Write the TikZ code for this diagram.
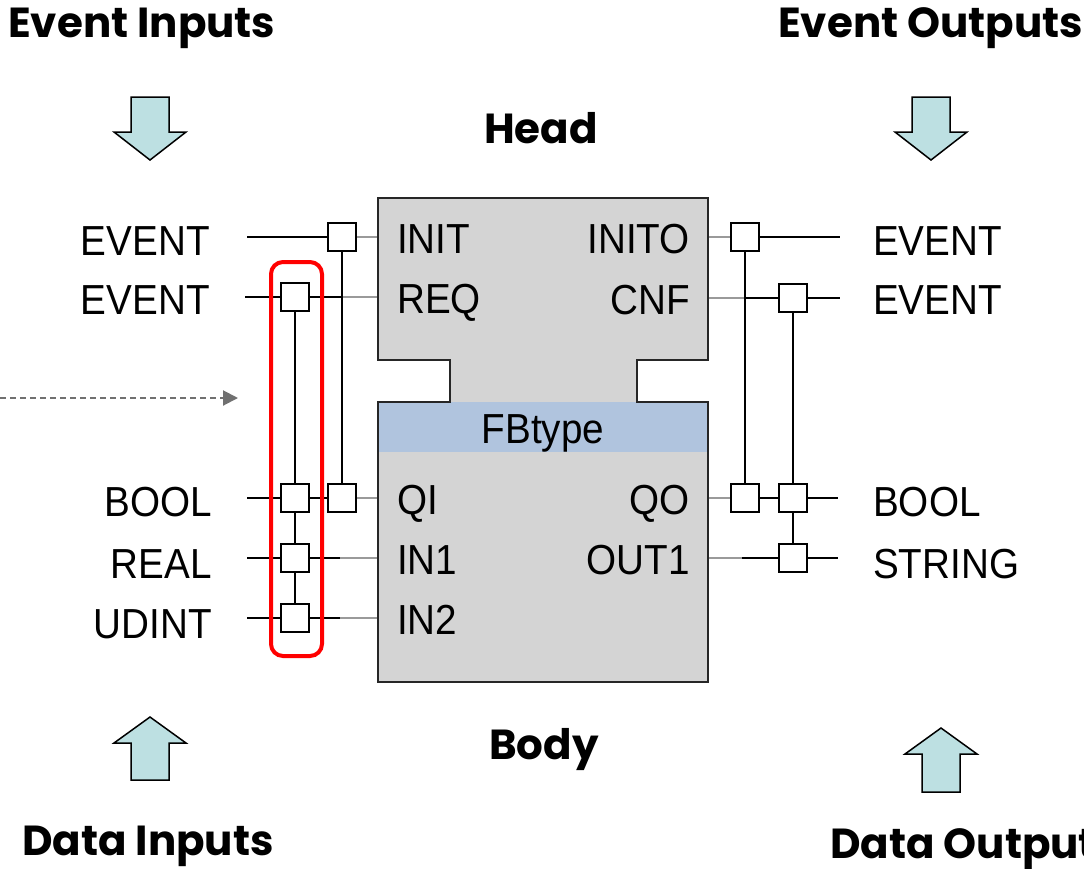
\documentclass[tikz,border=0pt]{standalone}
\usepackage{fontspec}
\setmainfont{Liberation Sans}
\newfontfamily\headfont{Poppins}
\usetikzlibrary{arrows.meta}
\definecolor{boxgray}{HTML}{D4D4D4}
\definecolor{bandblue}{HTML}{B0C4DE}
\definecolor{arrowfill}{HTML}{BDE0E2}
\definecolor{wiregray}{HTML}{9A9A9A}
\definecolor{dashgray}{HTML}{707070}
\newcommand{\lbl}[1]{\scalebox{0.92}[1]{#1}}
\tikzset{
  heading/.style={inner sep=0pt, font=\headfont\bfseries\fontsize{42}{42}\selectfont},
  port/.style={inner sep=0pt, font=\fontsize{42}{42}\selectfont, text=black},
  sq/.style={draw=black, fill=white, line width=2.4pt, minimum size=26pt, inner sep=0pt},
  wire/.style={draw=black, line width=2pt},
  gwire/.style={draw=wiregray, line width=2pt},
  bigarrow/.style={draw=black, fill=arrowfill, line width=1.5pt, line join=miter},
}
\begin{document}
\begin{tikzpicture}[x=1pt,y=-1pt]
\clip (0,0) rectangle (1084,868);
\fill[white] (0,0) rectangle (1084,868);

% headings
\node[heading, anchor=base west] (hEI) at (8,37) {Event Inputs};
\node[heading, anchor=base west] (hEO) at (778,37) {Event Outputs};
\node[heading, anchor=base] (hHead) at (541,143) {Head};
\node[heading, anchor=base] (hBody) at (544,759) {Body};
\node[heading, anchor=base west] (hDI) at (22,855) {Data Inputs};
\node[heading, anchor=base west] (hDO) at (830,858) {Data Outputs};

% big arrows
\path[bigarrow] (131,97) -- (169,97) -- (169,132) -- (186,132) -- (150,160) -- (114,132) -- (131,132) -- cycle;
\path[bigarrow] (912,97) -- (950,97) -- (950,132) -- (967,132) -- (931,160) -- (895,132) -- (912,132) -- cycle;
\path[bigarrow] (150,717) -- (186,743) -- (169,743) -- (169,780) -- (131,780) -- (131,743) -- (114,743) -- cycle;
\path[bigarrow] (941,728) -- (977,754) -- (960,754) -- (960,792) -- (922,792) -- (922,754) -- (905,754) -- cycle;

% dashed arrow
\coordinate (dA) at (0,398);
\coordinate (dB) at (238,398);
\draw[dashgray, line width=2pt, dash pattern=on 6pt off 4pt, -{Triangle[length=15pt,width=15pt]}] (dA) -- (dB);

% port coordinates on block edges
\coordinate (pINIT) at (378,237);
\coordinate (pREQ) at (378,297);
\coordinate (pQI) at (378,498);
\coordinate (pIN1) at (378,558);
\coordinate (pIN2) at (378,618);
\coordinate (pINITO) at (708,237);
\coordinate (pCNF) at (708,298);
\coordinate (pQO) at (708,498);
\coordinate (pOUT1) at (708,558);

% left squares
\node[sq] (sInit) at (342,237) {};
\node[sq] (sReq) at (295,297) {};
\node[sq] (sQI1) at (295,498) {};
\node[sq] (sQI2) at (342,498) {};
\node[sq] (sIn1) at (295,558) {};
\node[sq] (sIn2) at (295,618) {};
% right squares
\node[sq] (sInito) at (745,237) {};
\node[sq] (sCnf) at (793,298) {};
\node[sq] (sQO1) at (745,498) {};
\node[sq] (sQO2) at (793,498) {};
\node[sq] (sOut) at (793,558) {};

% wire end coordinates
\coordinate (lInit) at (247,237);
\coordinate (lReq) at (245,297);
\coordinate (lQI) at (247,498);
\coordinate (lIn1) at (247,558);
\coordinate (lIn2) at (247,618);
\coordinate (mReq) at (342,297);
\coordinate (mIn1) at (340,558);
\coordinate (mIn2) at (340,618);
\coordinate (rInito) at (840,237);
\coordinate (rCnf) at (840,298);
\coordinate (rQO) at (838,498);
\coordinate (rOut) at (838,558);
\coordinate (mCnf) at (745,298);
\coordinate (mOut) at (742,558);

% left wires
\draw[wire] (lInit) -- (sInit.west);
\draw[gwire] (sInit.east) -- (pINIT);
\draw[wire] (lReq) -- (sReq.west);
\draw[wire] (sReq.east) -- (mReq);
\draw[gwire] (mReq) -- (pREQ);
\draw[wire] (lQI) -- (sQI1.west);
\draw[wire] (sQI1.east) -- (sQI2.west);
\draw[gwire] (sQI2.east) -- (pQI);
\draw[wire] (lIn1) -- (sIn1.west);
\draw[wire] (sIn1.east) -- (mIn1);
\draw[gwire] (mIn1) -- (pIN1);
\draw[wire] (lIn2) -- (sIn2.west);
\draw[wire] (sIn2.east) -- (mIn2);
\draw[gwire] (mIn2) -- (pIN2);
\draw[wire] (sReq.south) -- (sQI1.north);
\draw[wire] (sQI1.south) -- (sIn1.north);
\draw[wire] (sIn1.south) -- (sIn2.north);
\draw[wire] (sInit.south) -- (sQI2.north);

% right wires
\draw[gwire] (pINITO) -- (sInito.west);
\draw[wire] (sInito.east) -- (rInito);
\draw[gwire] (pCNF) -- (mCnf);
\draw[wire] (mCnf) -- (sCnf.west);
\draw[wire] (sCnf.east) -- (rCnf);
\draw[gwire] (pQO) -- (sQO1.west);
\draw[wire] (sQO1.east) -- (sQO2.west);
\draw[wire] (sQO2.east) -- (rQO);
\draw[gwire] (pOUT1) -- (mOut);
\draw[wire] (mOut) -- (sOut.west);
\draw[wire] (sOut.east) -- (rOut);
\draw[wire] (sInito.south) -- (sQO1.north);
\draw[wire] (sCnf.south) -- (sQO2.north);
\draw[wire] (sQO2.south) -- (sOut.north);

% redraw squares on top
\foreach \s in {sInit,sReq,sQI1,sQI2,sIn1,sIn2,sInito,sCnf,sQO1,sQO2,sOut}{
  \path[sq] (\s.south west) rectangle (\s.north east);
}

% function block
\fill[boxgray] (378,198) -- (708,198) -- (708,360) -- (637,360) -- (637,402) -- (708,402) -- (708,682) -- (378,682) -- (378,402) -- (450,402) -- (450,360) -- (378,360) -- cycle;
\fill[bandblue] (378,402) rectangle (708,452);
\draw[black!85, line width=2pt, line join=miter] (378,198) -- (708,198) -- (708,360) -- (637,360) -- (637,402) -- (708,402) -- (708,682) -- (378,682) -- (378,402) -- (450,402) -- (450,360) -- (378,360) -- cycle;
\node[port, anchor=base] (fbname) at (543,443) {\lbl{FBtype}};

% inner port labels
\node[port, anchor=base west] (tINIT) at (397,253) {\lbl{INIT}};
\node[port, anchor=base west] (tREQ) at (397,313) {\lbl{REQ}};
\node[port, anchor=base west] (tQI) at (397,514) {\lbl{QI}};
\node[port, anchor=base west] (tIN1) at (397,574) {\lbl{IN1}};
\node[port, anchor=base west] (tIN2) at (397,634) {\lbl{IN2}};
\node[port, anchor=base east] (tINITO) at (690,253) {\lbl{INITO}};
\node[port, anchor=base east] (tCNF) at (690,314) {\lbl{CNF}};
\node[port, anchor=base east] (tQO) at (690,514) {\lbl{QO}};
\node[port, anchor=base east] (tOUT1) at (690,574) {\lbl{OUT1}};

% outer labels
\node[port, anchor=base east] (oEv1) at (210,255) {\lbl{EVENT}};
\node[port, anchor=base east] (oEv2) at (210,314) {\lbl{EVENT}};
\node[port, anchor=base east] (oBool) at (212,516) {\lbl{BOOL}};
\node[port, anchor=base east] (oReal) at (212,578) {\lbl{REAL}};
\node[port, anchor=base east] (oUdint) at (212,638) {\lbl{UDINT}};
\node[port, anchor=base west] (oEv3) at (873,255) {\lbl{EVENT}};
\node[port, anchor=base west] (oEv4) at (873,314) {\lbl{EVENT}};
\node[port, anchor=base west] (oBool2) at (873,516) {\lbl{BOOL}};
\node[port, anchor=base west] (oStr) at (873,578) {\lbl{STRING}};

% highlight
\draw[red, line width=4pt, rounded corners=12pt] (271,262) rectangle (322,656);
\end{tikzpicture}
\end{document}
